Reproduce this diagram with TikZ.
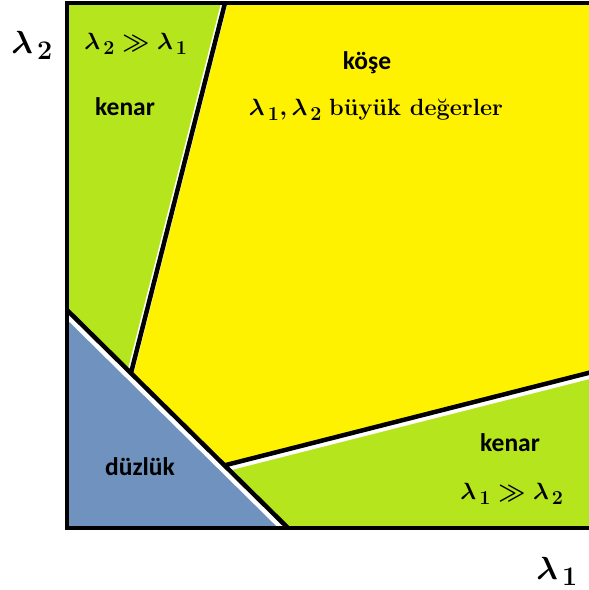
\RequirePackage{fix-cm}
\documentclass[tikz,border=0pt]{standalone}
\usepackage{fontspec}
\newfontfamily\etiket{Carlito}
\definecolor{yesil}{RGB}{181,230,29}
\definecolor{sari}{RGB}{255,242,0}
\definecolor{mavi}{RGB}{112,146,190}
\newcommand\lsub[1]{\lambda_{\,\scalebox{1.2}{$\scriptstyle#1$}}}
\begin{document}
\begin{tikzpicture}[x=1pt,y=-1pt,
  sinir/.style={line width=4.5pt},
  golge/.style={line width=6.5pt,white},
  bolge/.style={font=\etiket\bfseries\fontsize{25.5}{25.5}\selectfont},
  formul/.style={font=\boldmath\fontsize{23.5}{23.5}\selectfont},
  eksen/.style={font=\boldmath\fontsize{32}{32}\selectfont}]
 \useasboundingbox (0,0) rectangle (589,590);
 \begin{scope}
  \clip (0,0) rectangle (589,590);
  \coordinate (sol) at (67,310); \coordinate (alt) at (288,528);
  \coordinate (ust) at (225,3); \coordinate (kesA) at (131,373);
  \coordinate (kesB) at (226,465); \coordinate (sag) at (600,370);
  \fill[yesil] (67,3) rectangle (600,528);
  \fill[sari] (ust) -- (600,3) -- (sag) -- (kesB) -- (kesA) -- cycle;
  \fill[mavi] (sol) -- (alt) -- (67,528) -- cycle;
  \draw[golge] ([shift={(-2,3)}]sol) -- ([shift={(-2,3)}]alt);
  \draw[golge] ([shift={(-1,1.5)}]ust) -- ([shift={(-1,1.5)}]kesA);
  \draw[golge] ([shift={(0,3)}]kesB) -- ([shift={(0,3)}]sag);
  \draw[sinir] (sol) -- (alt); \draw[sinir] (ust) -- (kesA); \draw[sinir] (kesB) -- (sag);
  \draw[line width=3.5pt] (600,3) -| (67,528) -- (600,528);
 \end{scope}
 \node[eksen] (l2eksen) at (32,45) {$\lsub{2}$};
 \node[eksen] (l1eksen) at (557,571) {$\lsub{1}$};
 \node[formul] (ustform) at (136,44) {$\lsub{2} \gg \lsub{1}$};
 \node[bolge] (kenarust) at (125,107) {kenar};
 \node[bolge] (kose) at (367,63) {köşe};
 \node[formul] (koseform) at (376,110) {$\lsub{1},\lsub{2}$ \textbf{büyük değerler}};
 \node[bolge] (duzluk) at (140,467) {düzlük};
 \node[bolge] (kenaralt) at (510,443) {kenar};
 \node[formul] (altform) at (512,494) {$\lsub{1} \gg \lsub{2}$};
\end{tikzpicture}
\end{document}
